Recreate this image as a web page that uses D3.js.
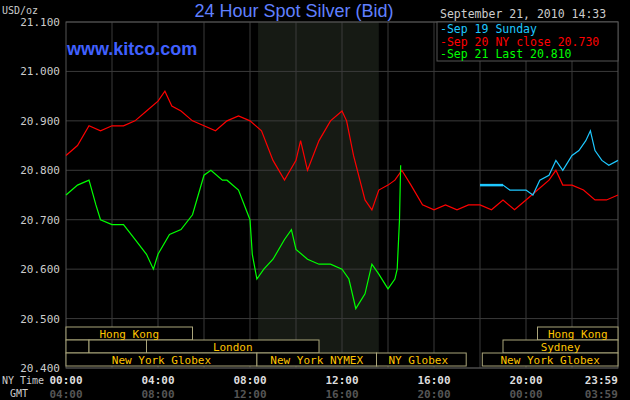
<!DOCTYPE html>
<html><head><meta charset="utf-8">
<script src="https://cdn.jsdelivr.net/npm/d3@7"></script>
<style>body{margin:0;background:#000}svg{display:block;font-family:"DejaVu Sans Mono",monospace}</style>
</head><body><div class="chart"></div>
<script>
// data (hour of NY day, price)
const sep19 = [[18,20.77],[19,20.77],[19.3,20.76],[19.6,20.76],[20,20.76],[20.3,20.75],[20.6,20.78],[21,20.79],[21.3,20.82],[21.6,20.80],[22,20.83],[22.3,20.84],[22.6,20.86],[22.8,20.88],[23,20.84],[23.3,20.82],[23.6,20.81],[24,20.82]];
const sep20 = [[0,20.83],[0.5,20.85],[1,20.89],[1.5,20.88],[2,20.89],[2.5,20.89],[3,20.90],[3.5,20.92],[4,20.94],[4.3,20.96],[4.6,20.93],[5,20.92],[5.5,20.90],[6,20.89],[6.5,20.88],[7,20.90],[7.5,20.91],[8,20.90],[8.5,20.88],[9,20.82],[9.5,20.78],[10,20.82],[10.2,20.86],[10.5,20.80],[11,20.86],[11.5,20.90],[12,20.92],[12.2,20.90],[12.5,20.83],[13,20.74],[13.3,20.72],[13.6,20.76],[14,20.77],[14.3,20.78],[14.6,20.80],[15,20.77],[15.5,20.73],[16,20.72],[16.5,20.73],[17,20.72],[17.5,20.73],[18,20.73],[18.5,20.72],[19,20.74],[19.5,20.72],[20,20.74],[20.5,20.76],[21,20.78],[21.3,20.80],[21.6,20.77],[22,20.77],[22.5,20.76],[23,20.74],[23.5,20.74],[24,20.75]];
const sep21 = [[0,20.75],[0.5,20.77],[1,20.78],[1.3,20.73],[1.5,20.70],[2,20.69],[2.5,20.69],[3,20.66],[3.5,20.63],[3.8,20.60],[4,20.63],[4.5,20.67],[5,20.68],[5.5,20.71],[6,20.79],[6.3,20.80],[6.8,20.78],[7,20.78],[7.5,20.76],[8,20.70],[8.1,20.63],[8.3,20.58],[8.6,20.60],[9,20.62],[9.5,20.66],[9.8,20.68],[10,20.64],[10.5,20.62],[11,20.61],[11.5,20.61],[12,20.60],[12.3,20.58],[12.6,20.52],[13,20.55],[13.3,20.61],[13.6,20.59],[14,20.56],[14.3,20.58],[14.4,20.60],[14.5,20.70],[14.55,20.81]];
const yTicks = [20.4,20.5,20.6,20.7,20.8,20.9,21.0,21.1];
const xTicks = [0,4,8,12,16,20,23.99];
const nyLabels = ["00:00","04:00","08:00","12:00","16:00","20:00","23:59"];
const gmtLabels = ["04:00","08:00","12:00","16:00","20:00","00:00","03:59"];
const sessions = [ // [row, start, end, label]
  [0,0,5.5,"Hong Kong"],[0,20.5,24,"Hong Kong"],
  [1,0,1,""],[1,1,3.5,""],[1,3.5,11,"London"],[1,19,24,"Sydney"],
  [2,0,8.3,"New York Globex"],[2,8.3,13.5,"New York NYMEX"],[2,13.5,17.4,"NY Globex"],[2,18.1,24,"New York Globex"]
];

const svg = d3.select(".chart").append("svg").attr("width",630).attr("height",400);
const x = d3.scaleLinear().domain([0,24]).range([66,618]);
const y = d3.scaleLinear().domain([20.4,21.1]).range([368,22]);

svg.append("rect").attr("x",x(8.35)).attr("y",22).attr("width",x(13.6)-x(8.35)).attr("height",346).attr("fill","#161a14");
svg.append("g").selectAll("line").data(d3.range(2,24,2)).join("line")
  .attr("x1",d=>x(d)).attr("x2",d=>x(d)).attr("y1",22).attr("y2",368).attr("stroke","#3a3a3a");
svg.append("g").selectAll("line").data(yTicks).join("line")
  .attr("x1",66).attr("x2",618).attr("y1",d=>y(d)).attr("y2",d=>y(d)).attr("stroke","#3a3a3a");
svg.append("rect").attr("x",66).attr("y",22).attr("width",552).attr("height",346).attr("fill","none").attr("stroke","#555");

// session boxes
const rowY = [327,340,353];
const sg = svg.append("g");
sg.selectAll("rect").data(sessions).join("rect")
  .attr("x",d=>x(d[1])).attr("y",d=>rowY[d[0]]).attr("width",d=>x(d[2])-x(d[1])).attr("height",13)
  .attr("fill","#000").attr("stroke","#aaa57a");
sg.selectAll("text").data(sessions).join("text")
  .attr("x",d=>d[3]==="NY Globex"?x(d[1])+12:(x(d[1])+x(d[2]))/2).attr("y",d=>rowY[d[0]]+11)
  .attr("text-anchor",d=>d[3]==="NY Globex"?"start":"middle")
  .attr("fill","#ffc400").attr("font-size",11).text(d=>d[3]);

const line = d3.line().x(d=>x(d[0])).y(d=>y(d[1]));
[[sep20,"#ff0000"],[sep21,"#00ff00"],[sep19,"#1ec8ff"]].forEach(([d,c])=>{
  svg.append("path").datum(d).attr("d",line).attr("fill","none").attr("stroke",c).attr("stroke-width",1.2);
});
svg.append("path").datum(sep19.slice(0,2)).attr("d",line).attr("stroke","#1ec8ff").attr("stroke-width",2.5);

// y labels
svg.append("g").selectAll("text").data(yTicks).join("text")
  .attr("x",60).attr("y",d=>y(d)+4).attr("text-anchor","end").attr("fill","#ccc").attr("font-size",11)
  .text(d=>d.toFixed(3));
svg.append("text").attr("x",2).attr("y",14).attr("fill","#ccc").attr("font-size",10).text("USD/oz");

// x labels
svg.append("g").selectAll("text").data(xTicks).join("text")
  .attr("x",(d,i)=>x(d)).attr("y",384).attr("text-anchor",(d,i)=>i===6?"end":"middle")
  .attr("fill","#ddd").attr("font-size",11).attr("font-weight","bold").text((d,i)=>nyLabels[i]);
svg.append("g").selectAll("text").data(xTicks).join("text")
  .attr("x",(d,i)=>x(d)).attr("y",398).attr("text-anchor",(d,i)=>i===6?"end":"middle")
  .attr("fill","#555").attr("font-size",11).attr("font-weight","bold").text((d,i)=>gmtLabels[i]);
svg.append("text").attr("x",2).attr("y",384).attr("fill","#ccc").attr("font-size",10).text("NY Time");
svg.append("text").attr("x",10).attr("y",397).attr("fill","#ccc").attr("font-size",10).text("GMT");

// titles
svg.append("text").attr("x",294).attr("y",17).attr("text-anchor","middle").attr("fill","#6080ff")
  .attr("font-family","Liberation Sans, Arial").attr("font-size",18).text("24 Hour Spot Silver (Bid)");
svg.append("text").attr("x",67).attr("y",55).attr("fill","#4060ff").attr("font-family","Liberation Sans, Arial")
  .attr("font-size",18).attr("font-weight","bold").text("www.kitco.com");

// legend
svg.append("rect").attr("x",437).attr("y",22).attr("width",181).attr("height",39).attr("fill","#000").attr("stroke","#555");
svg.append("text").attr("x",440).attr("y",18).attr("fill","#ccc").attr("font-size",11.5).text("September 21, 2010 14:33");
const legend = [["Sep 19 Sunday","#1ec8ff"],["Sep 20 NY close 20.730","#ff0000"],["Sep 21 Last 20.810","#00ff00"]];
svg.append("g").selectAll("text").data(legend).join("text")
  .attr("x",440).attr("y",(d,i)=>33+i*12.5).attr("fill",d=>d[1]).attr("font-size",11.5).text(d=>"-"+d[0]);
</script></body></html>
